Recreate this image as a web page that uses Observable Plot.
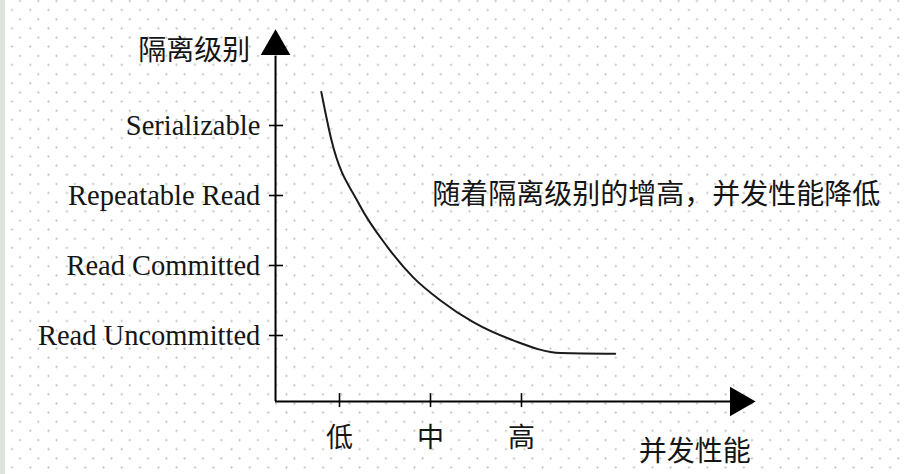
<!DOCTYPE html>
<html>
<head>
<meta charset="utf-8">
<script src="https://cdn.jsdelivr.net/npm/d3@7"></script>
<script src="https://cdn.jsdelivr.net/npm/@observablehq/plot@0.6"></script>
<style>
  html, body { margin: 0; padding: 0; }
  body {
    width: 904px; height: 474px; overflow: hidden;
    background-color: #ffffff;
    background-image:
      linear-gradient(to right, #dde4dd 0, #dde4dd 5px, transparent 5px),
      radial-gradient(circle, #c4c4c4 0.8px, rgba(255,255,255,0) 1.4px),
      radial-gradient(circle, #c4c4c4 0.8px, rgba(255,255,255,0) 1.4px);
    background-size: 904px 474px, 18.3px 18.3px, 18.3px 18.3px;
    background-position: 0 0, 10.85px 10.15px, 2.85px 0.85px;
    background-repeat: no-repeat, repeat, repeat;
  }
  #chart svg { display: block; }
</style>
</head>
<body>
<div id="chart"></div>
<script>
// Isolation levels (y categories) and their positions
const levels = ["Read Uncommitted", "Read Committed", "Repeatable Read", "Serializable"];
const levelValues = [1, 2, 3, 4];

// Concurrency performance ticks (x categories)
const perfLabels = ["低", "中", "高"];
const perfValues = [1, 2, 3];

// Curve (x = performance, y = isolation level)
const curveX = [0.80, 0.91, 1.21, 1.53, 1.81, 2.11, 2.47, 2.91, 3.43, 4.03];
const curveY = [4.48, 3.80, 2.89, 2.26, 1.83, 1.50, 1.19, 0.93, 0.75, 0.74];

const yTitle = "隔离级别";
const xTitle = "并发性能";
const note = "随着隔离级别的增高，并发性能降低";

const curve = curveX.map((x, i) => ({x, y: curveY[i]}));
const X0 = 0.297, Y0 = 0.057;
const cjk = "'Noto Sans CJK SC', 'Noto Sans', sans-serif";
const serif = "'Liberation Serif', 'DejaVu Serif', serif";
const ink = "#151515";

const chart = Plot.plot({
  width: 904,
  height: 474,
  margin: 0,
  x: {type: "linear", domain: [0, 1], range: [248, 339], axis: null},
  y: {type: "linear", domain: [0, 1], range: [405, 335], axis: null},
  style: {background: "transparent", overflow: "visible"},
  marks: [
    // axes lines
    Plot.ruleX([X0], {y1: Y0, y2: 4.99, stroke: "#000", strokeWidth: 2}),
    Plot.ruleY([Y0], {x1: X0, x2: 5.3, stroke: "#000", strokeWidth: 2}),
    // arrow heads
    Plot.dot([{x: X0, y: 5.13}], {x: "x", y: "y", symbol: "triangle", r: 11, fill: "#000", stroke: "none"}),
    Plot.dot([{x: 5.385, y: Y0}], {x: "x", y: "y", symbol: "triangle", r: 11, rotate: 90, fill: "#000", stroke: "none"}),
    // ticks
    Plot.ruleY(levelValues, {y: d => d, x1: 0.23, x2: 0.385, stroke: "#000", strokeWidth: 1.6}),
    Plot.ruleX(perfValues, {x: d => d, y1: -0.03, y2: 0.17, stroke: "#000", strokeWidth: 1.6}),
    // tick labels
    Plot.text(levels, {x: () => 0.13, y: (d, i) => levelValues[i], text: d => d, textAnchor: "end",
      fontFamily: serif, fontSize: 28.5, fill: ink}),
    Plot.text(perfLabels, {x: (d, i) => perfValues[i], y: () => -0.47, text: d => d,
      fontFamily: cjk, fontSize: 27, fill: ink}),
    // titles
    Plot.text([yTitle], {x: () => 0.02, y: () => 5.07, text: d => d, textAnchor: "end",
      fontFamily: cjk, fontSize: 28, fill: ink}),
    Plot.text([xTitle], {x: () => 5.52, y: () => -0.67, text: d => d, textAnchor: "end",
      fontFamily: cjk, fontSize: 28, fill: ink}),
    // annotation
    Plot.text([note], {x: () => 2.02, y: () => 3.0, text: d => d, textAnchor: "start",
      fontFamily: cjk, fontSize: 28, fill: ink}),
    // curve
    Plot.line(curve, {x: "x", y: "y", curve: "monotone-x", stroke: "#1a1a1a", strokeWidth: 2})
  ]
});
document.getElementById("chart").appendChild(chart);
</script>
</body>
</html>
